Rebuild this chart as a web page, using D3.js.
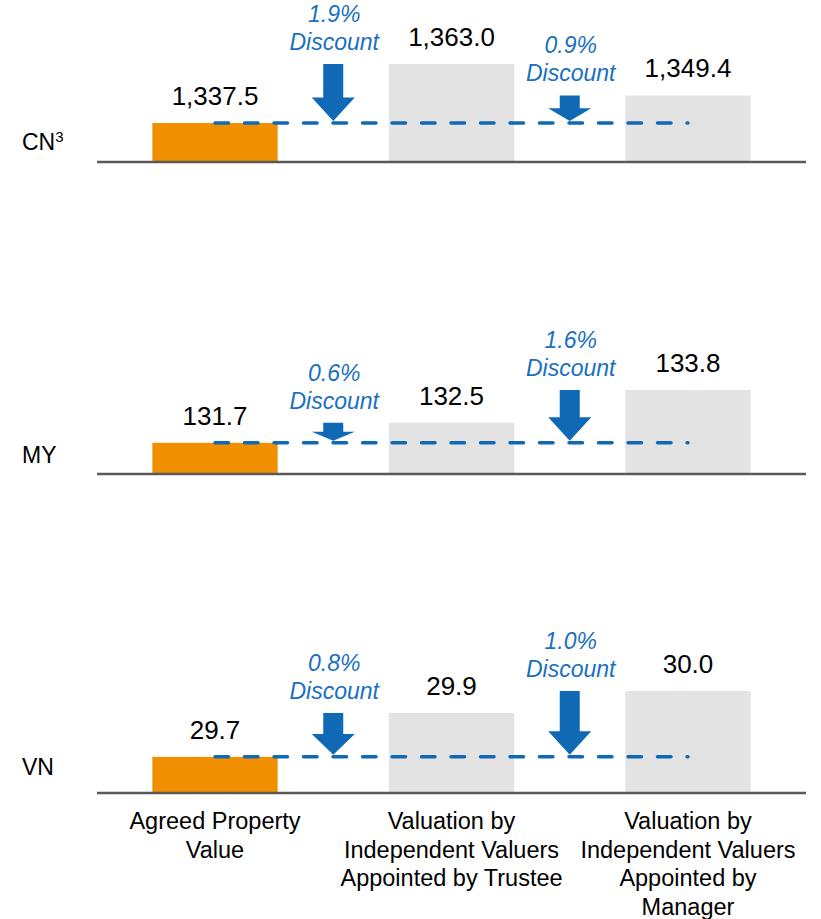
<!DOCTYPE html>
<html>
<head>
<meta charset="utf-8">
<script src="https://cdn.jsdelivr.net/npm/d3@7"></script>
<style>
  html, body { margin: 0; padding: 0; background: #fff; }
  svg { display: block; font-family: 'Liberation Sans', Arial, sans-serif; }
</style>
</head>
<body>
<div id="chart"></div>
<script>
const markets = ['CN', 'MY', 'VN'];
const marketNotes = ['3', '', ''];
const agreedValues = [1337.5, 131.7, 29.7];
const trusteeValues = [1363.0, 132.5, 29.9];
const managerValues = [1349.4, 133.8, 30.0];
const trusteeDiscounts = ['1.9%', '0.6%', '0.8%'];
const managerDiscounts = ['0.9%', '1.6%', '1.0%'];
// bars are cut off: each panel starts its value axis here
const axisFloors = [1321.1, 130.5, 29.54];
const categoryLines = [
  ['Agreed Property', 'Value'],
  ['Valuation by', 'Independent Valuers', 'Appointed by Trustee'],
  ['Valuation by', 'Independent Valuers', 'Appointed by', 'Manager'],
];

const width = 821;
const height = 919;
const panelBase = [161, 473, 792];
const panelHeight = [97, 83, 101];
const marketLabelY = [150, 463, 775];
const colors = {
  agreed: '#F09000',
  valuer: '#E3E3E3',
  blue: '#0F69B4',
  axis: '#595959',
};
const fmt = d3.format(',.1f');

const svg = d3.select('#chart').append('svg')
  .attr('width', width)
  .attr('height', height);

const x = d3.scaleBand()
  .domain(d3.range(3))
  .range([97, 806])
  .paddingInner(0.47)
  .paddingOuter(0.234);
const cx = i => x(i) + x.bandwidth() / 2;

markets.forEach((market, p) => {
  const values = [agreedValues[p], trusteeValues[p], managerValues[p]];
  const discounts = [trusteeDiscounts[p], managerDiscounts[p]];
  const base = panelBase[p];
  const y = d3.scaleLinear()
    .domain([axisFloors[p], d3.max(values)])
    .range([base, base - panelHeight[p]]);
  const g = svg.append('g').attr('class', 'panel');

  // bars
  g.selectAll('rect')
    .data(values)
    .join('rect')
    .attr('x', (_, i) => x(i))
    .attr('width', x.bandwidth())
    .attr('y', d => y(d))
    .attr('height', d => base - y(d))
    .attr('fill', (_, i) => (i === 0 ? colors.agreed : colors.valuer));

  // value labels
  g.selectAll('text.value')
    .data(values)
    .join('text')
    .attr('class', 'value')
    .attr('x', (_, i) => cx(i))
    .attr('y', d => y(d) - 18)
    .attr('text-anchor', 'middle')
    .attr('font-size', 26)
    .attr('fill', '#000')
    .text(d => fmt(d));

  // baseline
  g.append('line')
    .attr('x1', x.range()[0])
    .attr('x2', x.range()[1])
    .attr('y1', base + 1)
    .attr('y2', base + 1)
    .attr('stroke', colors.axis)
    .attr('stroke-width', 2.5);

  // market label
  const label = g.append('text')
    .attr('x', 22)
    .attr('y', marketLabelY[p])
    .attr('font-size', 23)
    .attr('fill', '#000')
    .text(market);
  if (marketNotes[p]) {
    label.append('tspan')
      .attr('dy', -8)
      .attr('font-size', 15)
      .text(marketNotes[p]);
  }

  // dashed reference line at the agreed value
  const dashY = y(agreedValues[p]);
  g.append('line')
    .attr('x1', cx(0))
    .attr('x2', cx(2))
    .attr('y1', dashY)
    .attr('y2', dashY)
    .attr('stroke', colors.blue)
    .attr('stroke-width', 3.5)
    .attr('stroke-linecap', 'round')
    .attr('stroke-dasharray', '13.5 16');

  // discount arrows between bars
  discounts.forEach((txt, k) => {
    const ax = (cx(k) + cx(k + 1)) / 2;
    const top = y(values[k + 1]);
    const tip = dashY - 2;
    const head = Math.min(23.5, (tip - top) * 0.5);
    const sw = 10;
    const hw = 21.5;
    const path = d3.path();
    path.moveTo(ax - sw, top);
    path.lineTo(ax + sw, top);
    path.lineTo(ax + sw, tip - head);
    path.lineTo(ax + hw, tip - head);
    path.lineTo(ax, tip);
    path.lineTo(ax - hw, tip - head);
    path.lineTo(ax - sw, tip - head);
    path.closePath();
    g.append('path')
      .attr('d', path.toString())
      .attr('fill', colors.blue);

    const t = g.append('text')
      .attr('text-anchor', 'middle')
      .attr('font-size', 23)
      .attr('font-style', 'italic')
      .attr('fill', '#1A70C0');
    t.append('tspan')
      .attr('x', ax + 1)
      .attr('y', top - 14 - 28)
      .text(txt);
    t.append('tspan')
      .attr('x', ax + 1)
      .attr('y', top - 14)
      .text('Discount');
  });
});

// category labels along the bottom
categoryLines.forEach((lines, i) => {
  const t = svg.append('text')
    .attr('text-anchor', 'middle')
    .attr('font-size', 23.5)
    .attr('fill', '#000');
  lines.forEach((line, j) => {
    t.append('tspan')
      .attr('x', cx(i))
      .attr('y', 829 + j * 28.5)
      .text(line);
  });
});
</script>
</body>
</html>
